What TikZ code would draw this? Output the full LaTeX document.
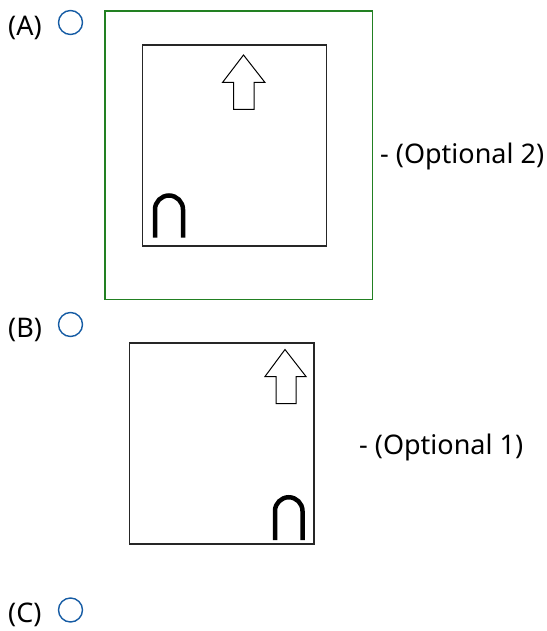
\documentclass[tikz,border=0pt]{standalone}
\usepackage{fontspec}
\setmainfont{Noto Sans}
\definecolor{verde}{RGB}{34,128,34}
\definecolor{azul}{RGB}{22,92,164}
\tikzset{
  etiqueta/.style={anchor=west,inner sep=0pt,font=\fontsize{27}{32}\selectfont},
  opcion/.style={circle,draw=azul,line width=1.4pt,minimum size=24pt,inner sep=0pt},
  marco/.style={draw=black!85,line width=1.5pt},
  flecha/.style={draw=black,line width=1pt,line join=miter},
  herradura/.style={draw=black,line width=4.5pt}
}
\begin{document}
\begin{tikzpicture}[x=1pt,y=-1pt]
                \useasboundingbox (0,0) rectangle (546,631);
                % opcion A
                \node[etiqueta] (labA) at (8,28) {(A)};
                \node[opcion] (radA) at (70.5,22.5) {};
                \draw[verde,line width=1.2pt] (105,11) rectangle (372.5,299.5);
                \draw[marco] (142.5,45) rectangle (326.5,246);
                \draw[flecha] (243.5,55) -- (265,82.5) -- (254,82.5) -- (254,109.5)
                      -- (233.5,109.5) -- (233.5,82.5) -- (222.5,82.5) -- cycle;
                \draw[herradura] (155,237.5) -- (155,209.5) arc[start angle=-180,end angle=0,radius=14] -- (183,237.5);
                \node[etiqueta] (optA) at (380,156) {- (Optional 2)};
                % opcion B
                \node[etiqueta] (labB) at (8,330) {(B)};
                \node[opcion] (radB) at (70.5,324.5) {};
                \draw[marco] (129.5,343) rectangle (314,544);
                \draw[flecha] (285,349.5) -- (306,376.5) -- (296,376.5) -- (296,403.5)
                      -- (276,403.5) -- (276,376.5) -- (265,376.5) -- cycle;
                \draw[herradura] (275,540) -- (275,511) arc[start angle=-180,end angle=0,radius=13.75] -- (302.5,540);
                \node[etiqueta] (optB) at (359,447) {- (Optional 1)};
                % opcion C
                \node[etiqueta] (labC) at (8,615) {(C)};
                \node[opcion] (radC) at (70.5,610) {};
\end{tikzpicture}
\end{document}
